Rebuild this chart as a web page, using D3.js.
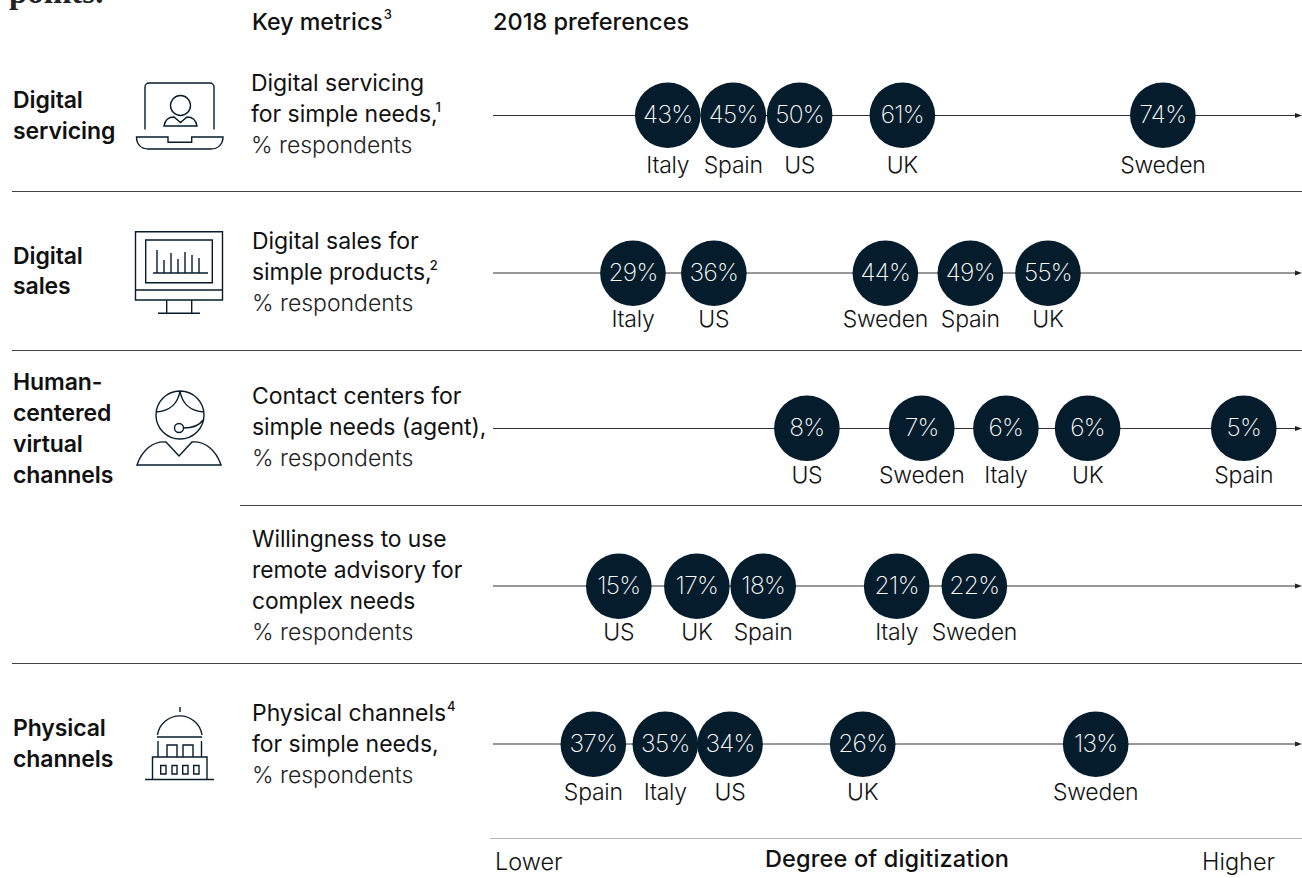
<!DOCTYPE html>
<html><head><meta charset="utf-8">
<script src="https://cdnjs.cloudflare.com/ajax/libs/d3/7.8.5/d3.min.js"></script>
<style>
html,body{margin:0;padding:0;background:#fff;overflow:hidden}
svg{display:block}
text{font-family:"Inter","Noto Sans",sans-serif;fill:#111}
</style></head><body><svg id="c" width="1302" height="878"></svg>
<script>
// Data: the reference's horizontal position is a "degree of digitization" index (0-100 along the arrow)
const metricKeys = ["servicing","sales","contact","remote","physical"];
const servicingCountries = ["Italy","Spain","US","UK","Sweden"];
const servicingValues = ["43%","45%","50%","61%","74%"];
const servicingDegree = [21.6,29.7,37.9,50.6,82.8];
const salesCountries = ["Italy","US","Sweden","Spain","UK"];
const salesValues = ["29%","36%","44%","49%","55%"];
const salesDegree = [17.3,27.3,48.5,59,68.6];
const contactCountries = ["US","Sweden","Italy","UK","Spain"];
const contactValues = ["8%","7%","6%","6%","5%"];
const contactDegree = [38.8,53,63.4,73.5,92.8];
const remoteCountries = ["US","UK","Spain","Italy","Sweden"];
const remoteValues = ["15%","17%","18%","21%","22%"];
const remoteDegree = [15.55,25.2,33.4,49.9,59.5];
const physicalCountries = ["Spain","Italy","US","UK","Sweden"];
const physicalValues = ["37%","35%","34%","26%","13%"];
const physicalDegree = [12.4,21.3,29.3,45.7,74.5];
const rowCountries = [servicingCountries,salesCountries,contactCountries,remoteCountries,physicalCountries];
const rowValues = [servicingValues,salesValues,contactValues,remoteValues,physicalValues];
const rowDegree = [servicingDegree,salesDegree,contactDegree,remoteDegree,physicalDegree];

const navy = "#051c2c";
const svg = d3.select("#c");
const x = d3.scaleLinear().domain([0,100]).range([493,1302]);
const y = d3.scaleOrdinal().domain(metricKeys).range([115.5,273,428.5,586,744]);
const labelDrop = d3.scaleOrdinal().domain(metricKeys).range([57.5,54,54.5,54,55.5]);
const R = 32.8;

function txt(px,py,s,o={}){
  const t = svg.append("text").attr("x",px).attr("y",py)
    .attr("font-size",o.size||23).attr("font-weight",o.weight||400)
    .attr("text-anchor",o.anchor||"start").text(s);
  if(o.family) t.style("font-family",o.family);
  if(o.fill) t.style("fill",o.fill);
  if(o.ls!==undefined) t.style("letter-spacing",o.ls+"px");
  if(o.sup){ t.append("tspan").attr("dy",o.supdy||-10).attr("dx",o.supdx||0).attr("font-size",13).attr("font-weight",500).text(o.sup); }
  return t;
}
// clipped headline fragment
txt(9,3,"points.",{family:'"Liberation Serif",serif',weight:700,size:33,fill:"#222"});

txt(252,30,"Key metrics",{weight:500,size:23.2,sup:"3",supdx:1,supdy:-11});
txt(493,30,"2018 preferences",{weight:500,size:23.5});

// separators
[[12,191],[12,350],[240,505],[12,663]].forEach(([a,b])=>{
  svg.append("line").attr("x1",a).attr("x2",1302).attr("y1",b+.5).attr("y2",b+.5).attr("stroke","#444").attr("stroke-width",1);
});
svg.append("line").attr("x1",490).attr("x2",1302).attr("y1",838.5).attr("y2",838.5).attr("stroke","#b5b5b5").attr("stroke-width",1);

// categories
[[13,107.5,"Digital"],[13,138.5,"servicing"],[13,263.5,"Digital"],[13,294,"sales"],
 [13,390,"Human-"],[13,421,"centered"],[13,452,"virtual"],[13,483,"channels"],
 [13,736,"Physical"],[13,767,"channels"]].forEach(d=>txt(d[0],d[1],d[2],{weight:600,size:23,ls:-.1}));

// metric text
const pr = {weight:300,size:23,fill:"#222"};
txt(251,90.5,"Digital servicing",{size:23,ls:-.05});
txt(251,121.5,"for simple needs,",{size:23,ls:-.05,sup:"1",supdx:-2});
txt(251,152.5,"% respondents",pr);
txt(252,248.5,"Digital sales for",{size:23,ls:-.05});
txt(252,279.5,"simple products,",{size:23,ls:-.05,sup:"2",supdx:-2});
txt(252,310.5,"% respondents",pr);
txt(252,403.5,"Contact centers for",{size:23,ls:-.05});
txt(252,434.5,"simple needs (agent),",{size:23,ls:-.05});
txt(252,465.5,"% respondents",pr);
txt(252,546.5,"Willingness to use",{size:22.8,ls:-.05});
txt(252,577.5,"remote advisory for",{size:22.8,ls:-.05});
txt(252,608.5,"complex needs",{size:22.8,ls:-.05});
txt(252,639.5,"% respondents",pr);
txt(252,721,"Physical channels",{size:23,ls:-.05,sup:"4",supdx:1});
txt(252,751.5,"for simple needs,",{size:23,ls:-.05});
txt(252,782.5,"% respondents",pr);

// axes & bubbles
metricKeys.forEach((k,i)=>{
  const g = svg.append("g");
  const yy = y(k);
  const cy = Math.floor(yy)+.2;
  g.append("line").attr("x1",x(0)).attr("x2",x(100)-4).attr("y1",yy).attr("y2",yy).attr("stroke","#333").attr("stroke-width",1);
  g.append("path").attr("d",`M${x(100)-7},${yy-2.5}L${x(100)},${yy}L${x(100)-7},${yy+2.5}Z`).attr("fill","#222");
  const rows = rowDegree[i].map((d,j)=>({d,v:rowValues[i][j],c:rowCountries[i][j]}));
  g.selectAll("circle").data(rows).join("circle").attr("cx",d=>x(d.d)).attr("cy",cy).attr("r",R).attr("fill",navy);
  g.selectAll("text.v").data(rows).join("text").attr("class","v").attr("x",d=>x(d.d)).attr("y",cy+7.8)
    .attr("text-anchor","middle").attr("font-size",24.5).attr("font-weight",200)
    .style("letter-spacing","-.7px").style("fill","#fff").text(d=>d.v);
  g.selectAll("text.c").data(rows).join("text").attr("class","c").attr("x",d=>x(d.d)).attr("y",yy+labelDrop(k))
    .attr("text-anchor","middle").attr("font-size",23).attr("font-weight",300)
    .style("letter-spacing","-.25px").text(d=>d.c);
});

// footer
txt(495,870,"Lower",{weight:300,size:23.5});
txt(765,867,"Degree of digitization",{weight:500,size:23.5,ls:.15});
txt(1275,870,"Higher",{weight:300,size:23.5,anchor:"end"});

// icons
const icons = [
 "M145,129.500V87a4,4 0 0 1 4,-4H210a4,4 0 0 1 4,4V129.500",
 "M136.500,137H168V142.300H191.700V137H223C223,144 218,149 211,149H148C141,149 136.500,144 136.500,137Z",
 "M190.500,105.500a10,10 0 1 1 -20,0a10,10 0 1 1 20,0Z",
 "M164,126C165,120 169,117 174,117L180.500,122.500L187,117C192,117 196,120 197,126Z",
 "M135.500,231.700H222.500V300H135.500ZM135.500,290H222.500M145.700,240H212.300V282.700H145.700ZM166.700,300V313M191.700,300V313M158,313.300H200M153,273H208M157,273V250M164,273V260M171,273V253M178,273V259M185,273V252M192,273V255M199,273V258",
 "M204,415a24,24 0 1 1 -48,0a24,24 0 1 1 48,0ZM156,412C170,411 178,403 180,391C182,403 190,411 204,412M183.500,428C192,428 199,426 203,420M183.500,428a4.500,4.500 0 1 1 -9,0a4.500,4.500 0 1 1 9,0Z",
 "M137,465H221C216,450 205,441 192,442L179,456L166,442C153,441 142,450 137,465Z",
 "M180,707V712M157.500,735A22.500,22.500 0 0 1 202,735M157,737H202M158,741V757M201.500,741V757M167,757V745H177V757M183,757V745H193V757M152.500,779V757H207V779M145,779.500H214",
 "M160.700,765.500H166V774H160.700ZM172,765.500H177V774H172ZM182.700,765.500H188V774H182.700ZM193.700,765.500H199V774H193.700Z"
];
svg.append("g").selectAll("path").data(icons).join("path").attr("d",d=>d).attr("fill","none").attr("stroke",navy).attr("stroke-width",1.4);
</script></body></html>
